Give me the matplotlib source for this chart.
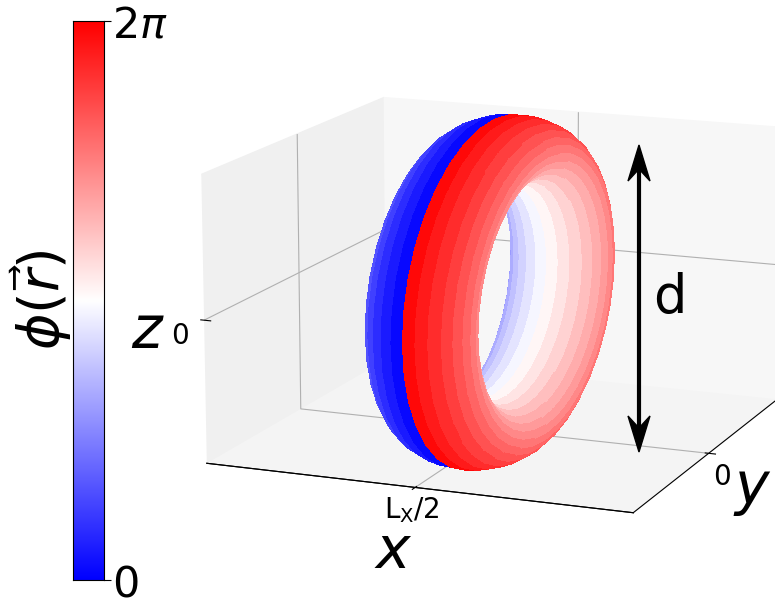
import numpy as np
import matplotlib
matplotlib.use("Agg")
import matplotlib.pyplot as plt
from matplotlib.patches import Polygon
from matplotlib.lines import Line2D

# torus (same units on every box side)
major_radius = 0.635
tube_radial = 0.155
tube_along_x = 0.25
ring_stretch_y = 1.33
torus_x_shift = -0.025
box_x = 1.0
box_y = 0.98
box_z = 0.65
ring_steps = 37
tube_steps = 29

x_ticks = [0.0]
y_ticks = [0.0]
z_ticks = [0.0]
x_tick_labels = [r"$\mathrm{L_X/2}$"]
y_tick_labels = ["0"]
z_tick_labels = ["0"]
bar_ticks = [0.0, 2 * np.pi]
bar_tick_labels = [r"$0$", r"$2\pi$"]

W = 775
H = 601


def fx(px):
    return px / W


def fy(py):
    return 1 - py / H


fig = plt.figure(figsize=(W / 100, H / 100), dpi=100)

ax = fig.add_axes([fx(491) - 0.5, fy(301) - 0.575, 1.0, 1.15], projection="3d")
ax.view_init(elev=13.5, azim=-68)
ax.set_box_aspect((box_x, box_y, box_z), zoom=0.962)

# phase winds round the tube, jump sits on the outer rim
ring = np.linspace(0, 2 * np.pi, ring_steps)
tube = np.linspace(0, 2 * np.pi, tube_steps)
u, v = np.meshgrid(ring, tube)
x = torus_x_shift - tube_along_x * np.sin(v)
y = ring_stretch_y * (major_radius + tube_radial * np.cos(v)) * np.cos(u)
z = (major_radius + tube_radial * np.cos(v)) * np.sin(u)

phase = 0.5 * (v[:-1, :-1] + v[1:, 1:])
colors = plt.cm.bwr(phase / (2 * np.pi))
ax.plot_surface(x, y, z, facecolors=colors, shade=False, rstride=1, cstride=1,
                linewidth=0, antialiased=False)

ax.set_xlim(-box_x, box_x)
ax.set_ylim(-box_y, box_y)
ax.set_zlim(-box_z, box_z)
ax.set_xticks(x_ticks)
ax.set_yticks(y_ticks)
ax.set_zticks(z_ticks)
ax.set_xticklabels(x_tick_labels, fontsize=20)
ax.set_yticklabels(y_tick_labels, fontsize=20)
ax.set_zticklabels(z_tick_labels, fontsize=20)
ax.tick_params(axis="x", pad=-3)
ax.tick_params(axis="y", pad=0)
ax.tick_params(axis="z", pad=2)
ax.zaxis._axinfo["juggled"] = (1, 0, 2)
ax.xaxis.set_pane_color((0.94, 0.94, 0.94, 1.0))
ax.yaxis.set_pane_color((0.97, 0.97, 0.97, 1.0))
ax.zaxis.set_pane_color((0.955, 0.955, 0.955, 1.0))
ax.patch.set_alpha(0)

# colour bar on the left
cax = fig.add_axes([fx(73), fy(580), 31 / W, 559 / H])
grad = np.linspace(0, 2 * np.pi, 256).reshape(-1, 1)
cax.imshow(grad, aspect="auto", cmap="bwr", origin="lower", extent=[0, 1, 0, 2 * np.pi])
cax.set_xticks([])
cax.yaxis.tick_right()
cax.set_yticks(bar_ticks)
cax.set_yticklabels(bar_tick_labels, fontsize=31)
cax.tick_params(axis="y", length=5, pad=1)

fig.text(fx(41), fy(300), r"$\phi(\vec{r})$", fontsize=40, rotation=90, ha="center", va="center")
fig.text(fx(148), fy(332), r"$z$", fontsize=42, ha="center", va="center")
fig.text(fx(393), fy(552), r"$x$", fontsize=42, ha="center", va="center")
fig.text(fx(752), fy(490), r"$y$", fontsize=42, ha="center", va="center")
fig.text(fx(670), fy(298), "d", fontsize=38, ha="center", va="center")

# double arrow for the diameter
arrow_x = 639
arrow_top = 145
arrow_bottom = 452
fig.add_artist(Line2D([fx(arrow_x), fx(arrow_x)], [fy(arrow_top + 10), fy(arrow_bottom - 10)],
                      color="black", linewidth=3))
for tip, sign in [(arrow_top, 1), (arrow_bottom, -1)]:
    fig.add_artist(Polygon([(fx(arrow_x), fy(tip)),
                            (fx(arrow_x + 11), fy(tip + sign * 36)),
                            (fx(arrow_x), fy(tip + sign * 24)),
                            (fx(arrow_x - 11), fy(tip + sign * 36))],
                           closed=True, color="black", transform=fig.transFigure))

fig.savefig("out.png", dpi=100)
